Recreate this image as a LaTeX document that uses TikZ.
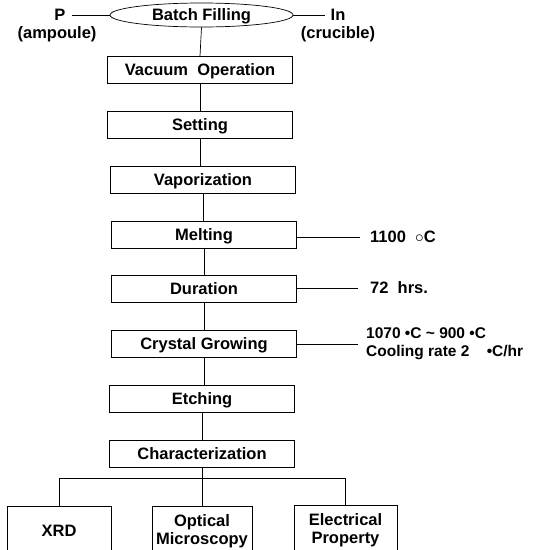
\documentclass[tikz,border=0pt]{standalone}
\usepackage{fontspec}
\setmainfont{Liberation Sans}
\usetikzlibrary{shapes.geometric,calc}
\begin{document}
\begin{tikzpicture}[x=1pt,y=-1pt,
  every node/.style={font=\bfseries\fontsize{16.5}{18}\selectfont, inner sep=1pt},
  stepbox/.style={draw, line width=0.7pt, minimum width=185pt, minimum height=27pt, inner sep=0pt, text depth=0pt},
  leafbox/.style={draw, line width=0.7pt, minimum height=50pt, inner sep=0pt, align=center},
  conn/.style={line width=0.7pt},
  side/.style={anchor=west, align=left}]
\useasboundingbox (0,0) rectangle (533,550);
\node[draw, ellipse, line width=0.7pt, minimum width=183pt, minimum height=24pt, inner sep=0pt, text depth=0pt] (bf) at (201.5,15) {Batch Filling};
\node (p) at (60,15) {P};
\node (amp) at (57,34) {(ampoule)};
\node (in) at (338,15) {In};
\node (cru) at (338,34) {(crucible)};
\draw[conn] ($(p.east)+(5,0)$) -- (bf.west);
\draw[conn] (bf.east) -- ($(in.west)+(-4,0)$);
\node[stepbox] (vac) at (200,70) {Vacuum\ \ Operation};
\node[stepbox] (set) at (200,124.5) {Setting};
\node[stepbox] (vap) at (203,180) {Vaporization};
\node[stepbox] (mel) at (204,235) {Melting};
\node[stepbox] (dur) at (204,289) {Duration};
\node[stepbox] (cry) at (204,343.5) {Crystal Growing};
\node[stepbox] (etc) at (202,399) {Etching};
\node[stepbox] (cha) at (202,453.5) {Characterization};
\draw[conn] (bf.south) -- (vac.north);
\draw[conn] (vac.south) -- (set.north);
\draw[conn] (set.south) -- (vap.north-|set.south);
\draw[conn] (vap.south) -- (mel.north-|vap.south);
\draw[conn] (mel.south) -- (dur.north);
\draw[conn] (dur.south) -- (cry.north);
\draw[conn] (cry.south) -- (etc.north-|cry.south);
\draw[conn] (etc.south) -- (cha.north);
\node[side] (t1) at (369,237) {1100\ \ $\circ$C};
\node[side] (t2) at (369,288) {72\ \ hrs.};
\node[side, font=\bfseries\fontsize{15.5}{18}\selectfont] (t3) at (365,344) {1070 •C {\char"7E} 900 •C\\Cooling rate 2\ \ \ \ •C/hr};
\draw[conn] (mel.east|-t1) -- (360,237) coordinate (e1);
\draw[conn] (dur.east|-t2) -- (358,288) coordinate (e2);
\draw[conn] (cry.east|-t3) -- (358,344) coordinate (e3);
\node[leafbox, minimum width=104pt] (xrd) at (59,531) {XRD};
\node[leafbox, minimum width=100pt] (opt) at (202,531) {Optical\\Microscopy};
\node[leafbox, minimum width=103pt] (ele) at (345.5,530) {Electrical\\Property};
\coordinate (br) at (202,478);
\draw[conn] (cha.south) -- (br);
\draw[conn] (xrd.north|-br) coordinate (bl) -- (ele.north|-br) -- (ele.north);
\draw[conn] (bl) -- (xrd.north);
\draw[conn] (br) -- (opt.north);
\end{tikzpicture}
\end{document}
